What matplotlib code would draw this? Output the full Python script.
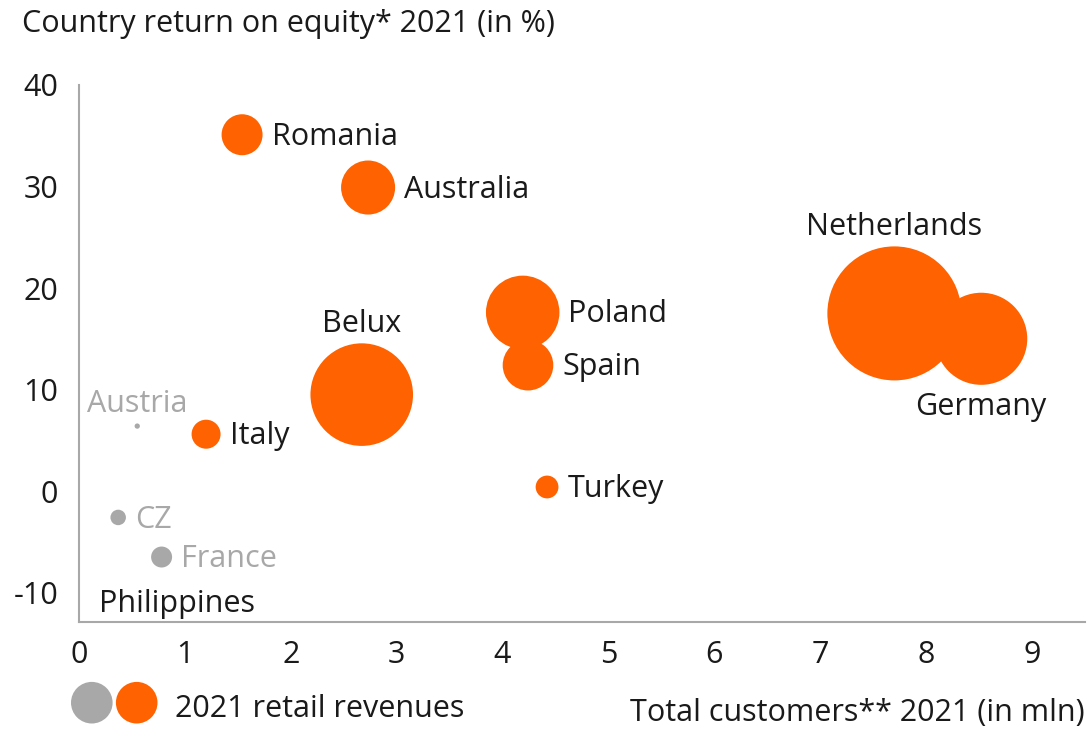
import matplotlib
matplotlib.use('Agg')
import matplotlib.pyplot as plt
import numpy as np

plt.rcParams['font.family'] = ['Open Sans', 'DejaVu Sans']
plt.rcParams['axes.unicode_minus'] = False

# data
countries = ['Romania', 'Australia', 'Netherlands', 'Germany', 'Poland', 'Spain',
             'Belux', 'Italy', 'Austria', 'Turkey', 'CZ', 'France', 'Philippines']
customers = [1.54, 2.73, 7.70, 8.52, 4.19, 4.24, 2.67, 1.20, 0.55, 4.42, 0.37, 0.78, 0.93]
roe = [35.1, 29.9, 17.5, 15.0, 17.6, 12.4, 9.5, 5.6, 6.4, 0.4, -2.6, -6.5, -10.9]
revenues = [0.42, 0.73, 4.49, 2.12, 1.35, 0.64, 2.63, 0.21, 0.007, 0.13, 0.06, 0.11, 0.0]
grey_group = ['Austria', 'CZ', 'France']
label_side = ['right', 'right', 'above', 'below', 'right', 'right',
              'above', 'right', 'above', 'right', 'right', 'right', 'center']

orange = '#FF6200'
grey = '#A8A8A8'
text_col = '#1A1A1A'
fs = 22

fig = plt.figure(figsize=(10.89, 7.31), dpi=100)
ax = fig.add_axes([79 / 1089, 1 - 622 / 731, (1085 - 79) / 1089, (622 - 85) / 731])

sizes = np.array(revenues) * 2074
colors = [grey if c in grey_group else orange for c in countries]
ax.scatter(customers, roe, s=sizes, c=colors, linewidths=0, zorder=3)

for name, x, y, s, side, col in zip(countries, customers, roe, sizes, label_side, colors):
    r = np.sqrt(s) / 2
    tcol = grey if name in grey_group else text_col
    if side == 'right':
        off, ha = (r + 6.5, -1.5), 'left'
    elif side == 'above':
        off, ha = (0, r + 14), 'center'
    elif side == 'below':
        off, ha = (0, -(r + 16)), 'center'
    else:
        off, ha = (0, -1.5), 'center'
    ax.annotate(name, (x, y), xytext=off, textcoords='offset points',
                ha=ha, va='center', fontsize=fs, color=tcol)

ax.set_xlim(0, 9.5)
ax.set_ylim(-12.9, 40)
ax.set_xticks(range(0, 10))
ax.set_yticks(range(-10, 41, 10))
ax.tick_params(length=0, labelsize=fs, labelcolor=text_col, pad=15)
ax.tick_params(axis='x', pad=13)
for side in ['top', 'right']:
    ax.spines[side].set_visible(False)
for side in ['left', 'bottom']:
    ax.spines[side].set_color(grey)
    ax.spines[side].set_linewidth(1.5)

fig.text(22 / 1089, 1 - 24 / 731, 'Country return on equity* 2021 (in %)',
         fontsize=fs, color=text_col, ha='left', va='center')
fig.text(1085 / 1089, 1 - 713 / 731, 'Total customers** 2021 (in mln)',
         fontsize=fs, color=text_col, ha='right', va='center')

# legend
ax.scatter([91.8 / 1089, 136.7 / 1089], [1 - 702.7 / 731] * 2, s=897,
           c=[grey, orange], linewidths=0, transform=fig.transFigure, clip_on=False)
fig.text(175 / 1089, 1 - 709 / 731, '2021 retail revenues',
         fontsize=fs, color=text_col, ha='left', va='center')

fig.savefig('out.png', dpi=100)
